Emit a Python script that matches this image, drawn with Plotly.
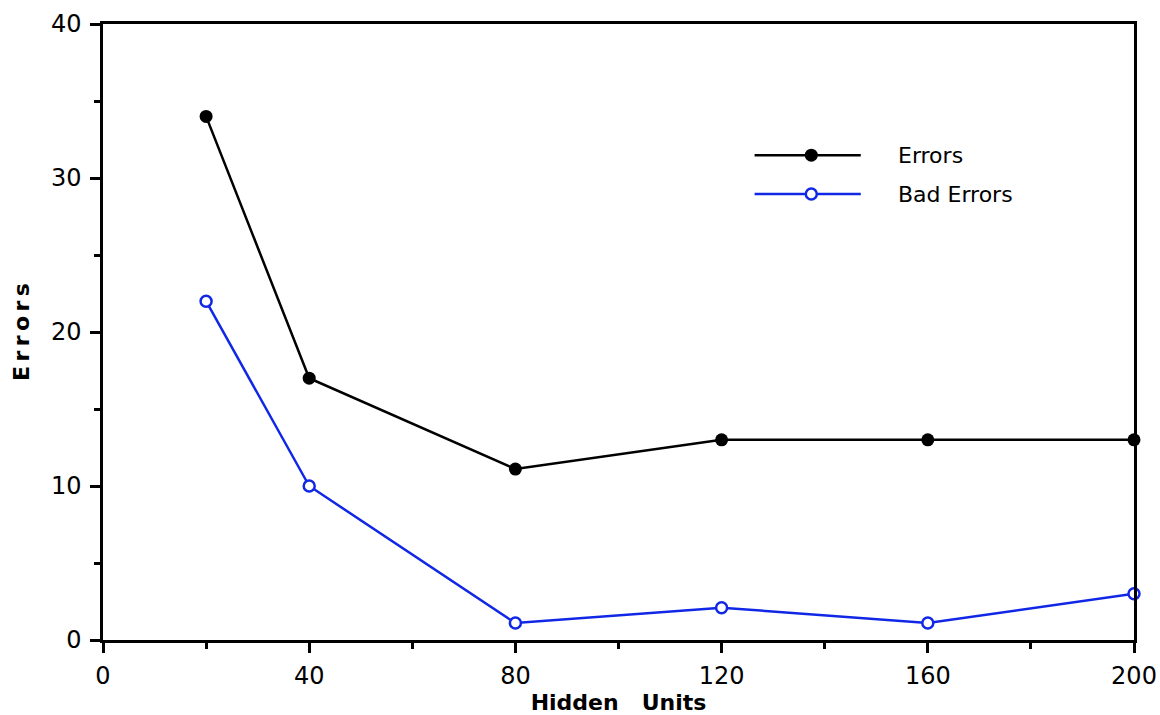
import plotly.graph_objects as go

hidden_units = [20, 40, 80, 120, 160, 200]
errors = [34, 17, 11.1, 13, 13, 13]
bad_errors = [22, 10, 1.1, 2.1, 1.1, 3]
series_names = ["Errors", "Bad Errors"]
x_ticks = [0, 40, 80, 120, 160, 200]
y_ticks = [0, 10, 20, 30, 40]

BLUE = "#1028e6"
fig = go.Figure()
fig.add_trace(go.Scatter(x=hidden_units, y=errors, mode="lines+markers", name=series_names[0],
                         line=dict(color="black", width=2.5),
                         marker=dict(symbol="circle", size=13, color="black"),
                         cliponaxis=False, showlegend=False))
fig.add_trace(go.Scatter(x=hidden_units, y=bad_errors, mode="lines+markers", name=series_names[1],
                         line=dict(color=BLUE, width=2.5),
                         marker=dict(symbol="circle", size=11, color="white", line=dict(color=BLUE, width=2.5)),
                         cliponaxis=False, showlegend=False))

# manual legend on overlay axes (0..1 of plot area)
leg_y = [0.787, 0.724]
leg_x = [0.632, 0.735]
fig.add_trace(go.Scatter(x=leg_x, y=[leg_y[0]] * 2, mode="lines", line=dict(color="black", width=2.5),
                         xaxis="x2", yaxis="y2", showlegend=False, hoverinfo="skip"))
fig.add_trace(go.Scatter(x=[0.687], y=[leg_y[0]], mode="markers", marker=dict(size=13, color="black"),
                         xaxis="x2", yaxis="y2", showlegend=False, hoverinfo="skip"))
fig.add_trace(go.Scatter(x=leg_x, y=[leg_y[1]] * 2, mode="lines", line=dict(color=BLUE, width=2.5),
                         xaxis="x2", yaxis="y2", showlegend=False, hoverinfo="skip"))
fig.add_trace(go.Scatter(x=[0.687], y=[leg_y[1]], mode="markers",
                         marker=dict(size=11, color="white", line=dict(color=BLUE, width=2.5)),
                         xaxis="x2", yaxis="y2", showlegend=False, hoverinfo="skip"))
for name, yy in zip(series_names, leg_y):
    fig.add_annotation(x=0.769, y=yy, xref="x2", yref="y2", text=name, showarrow=False,
                       xanchor="left", yanchor="middle",
                       font=dict(family="DejaVu Sans", size=22, color="black"))

axis_common = dict(showgrid=False, zeroline=False, showline=True, linecolor="black", linewidth=2.5,
                   mirror=True, ticks="outside", tickcolor="black", tickwidth=2.5, ticklen=10,
                   automargin=False,
                   tickfont=dict(family="DejaVu Sans", size=24, color="black"))

fig.update_layout(
    width=1160, height=715,
    margin=dict(l=103, r=26, t=24, b=75),
    paper_bgcolor="white", plot_bgcolor="white",
    xaxis=dict(range=[0, 200], tickvals=x_ticks, ticklabelstandoff=2,
               minor=dict(ticks="outside", ticklen=6, tickwidth=2.5, tickcolor="black", dtick=20, tick0=0),
               title=dict(text="Hidden\u00a0\u00a0\u00a0Units", standoff=8,
                          font=dict(family="DejaVu Sans", size=22, color="black", weight="bold")),
               **axis_common),
    yaxis=dict(range=[0, 40], tickvals=y_ticks, ticklabelstandoff=4,
               minor=dict(ticks="outside", ticklen=6, tickwidth=2.5, tickcolor="black", dtick=5, tick0=0),
               title=dict(text="E\u2009r\u2009r\u2009o\u2009r\u2009s", standoff=16,
                          font=dict(family="DejaVu Sans", size=22, color="black", weight="bold")),
               **axis_common),
    xaxis2=dict(range=[0, 1], overlaying="x", visible=False, fixedrange=True, automargin=False),
    yaxis2=dict(range=[0, 1], overlaying="y", visible=False, fixedrange=True, automargin=False),
)

fig.write_html("out.html", config={"displayModeBar": False},
               post_script="document.body.style.margin='0';document.body.style.overflow='hidden';")
